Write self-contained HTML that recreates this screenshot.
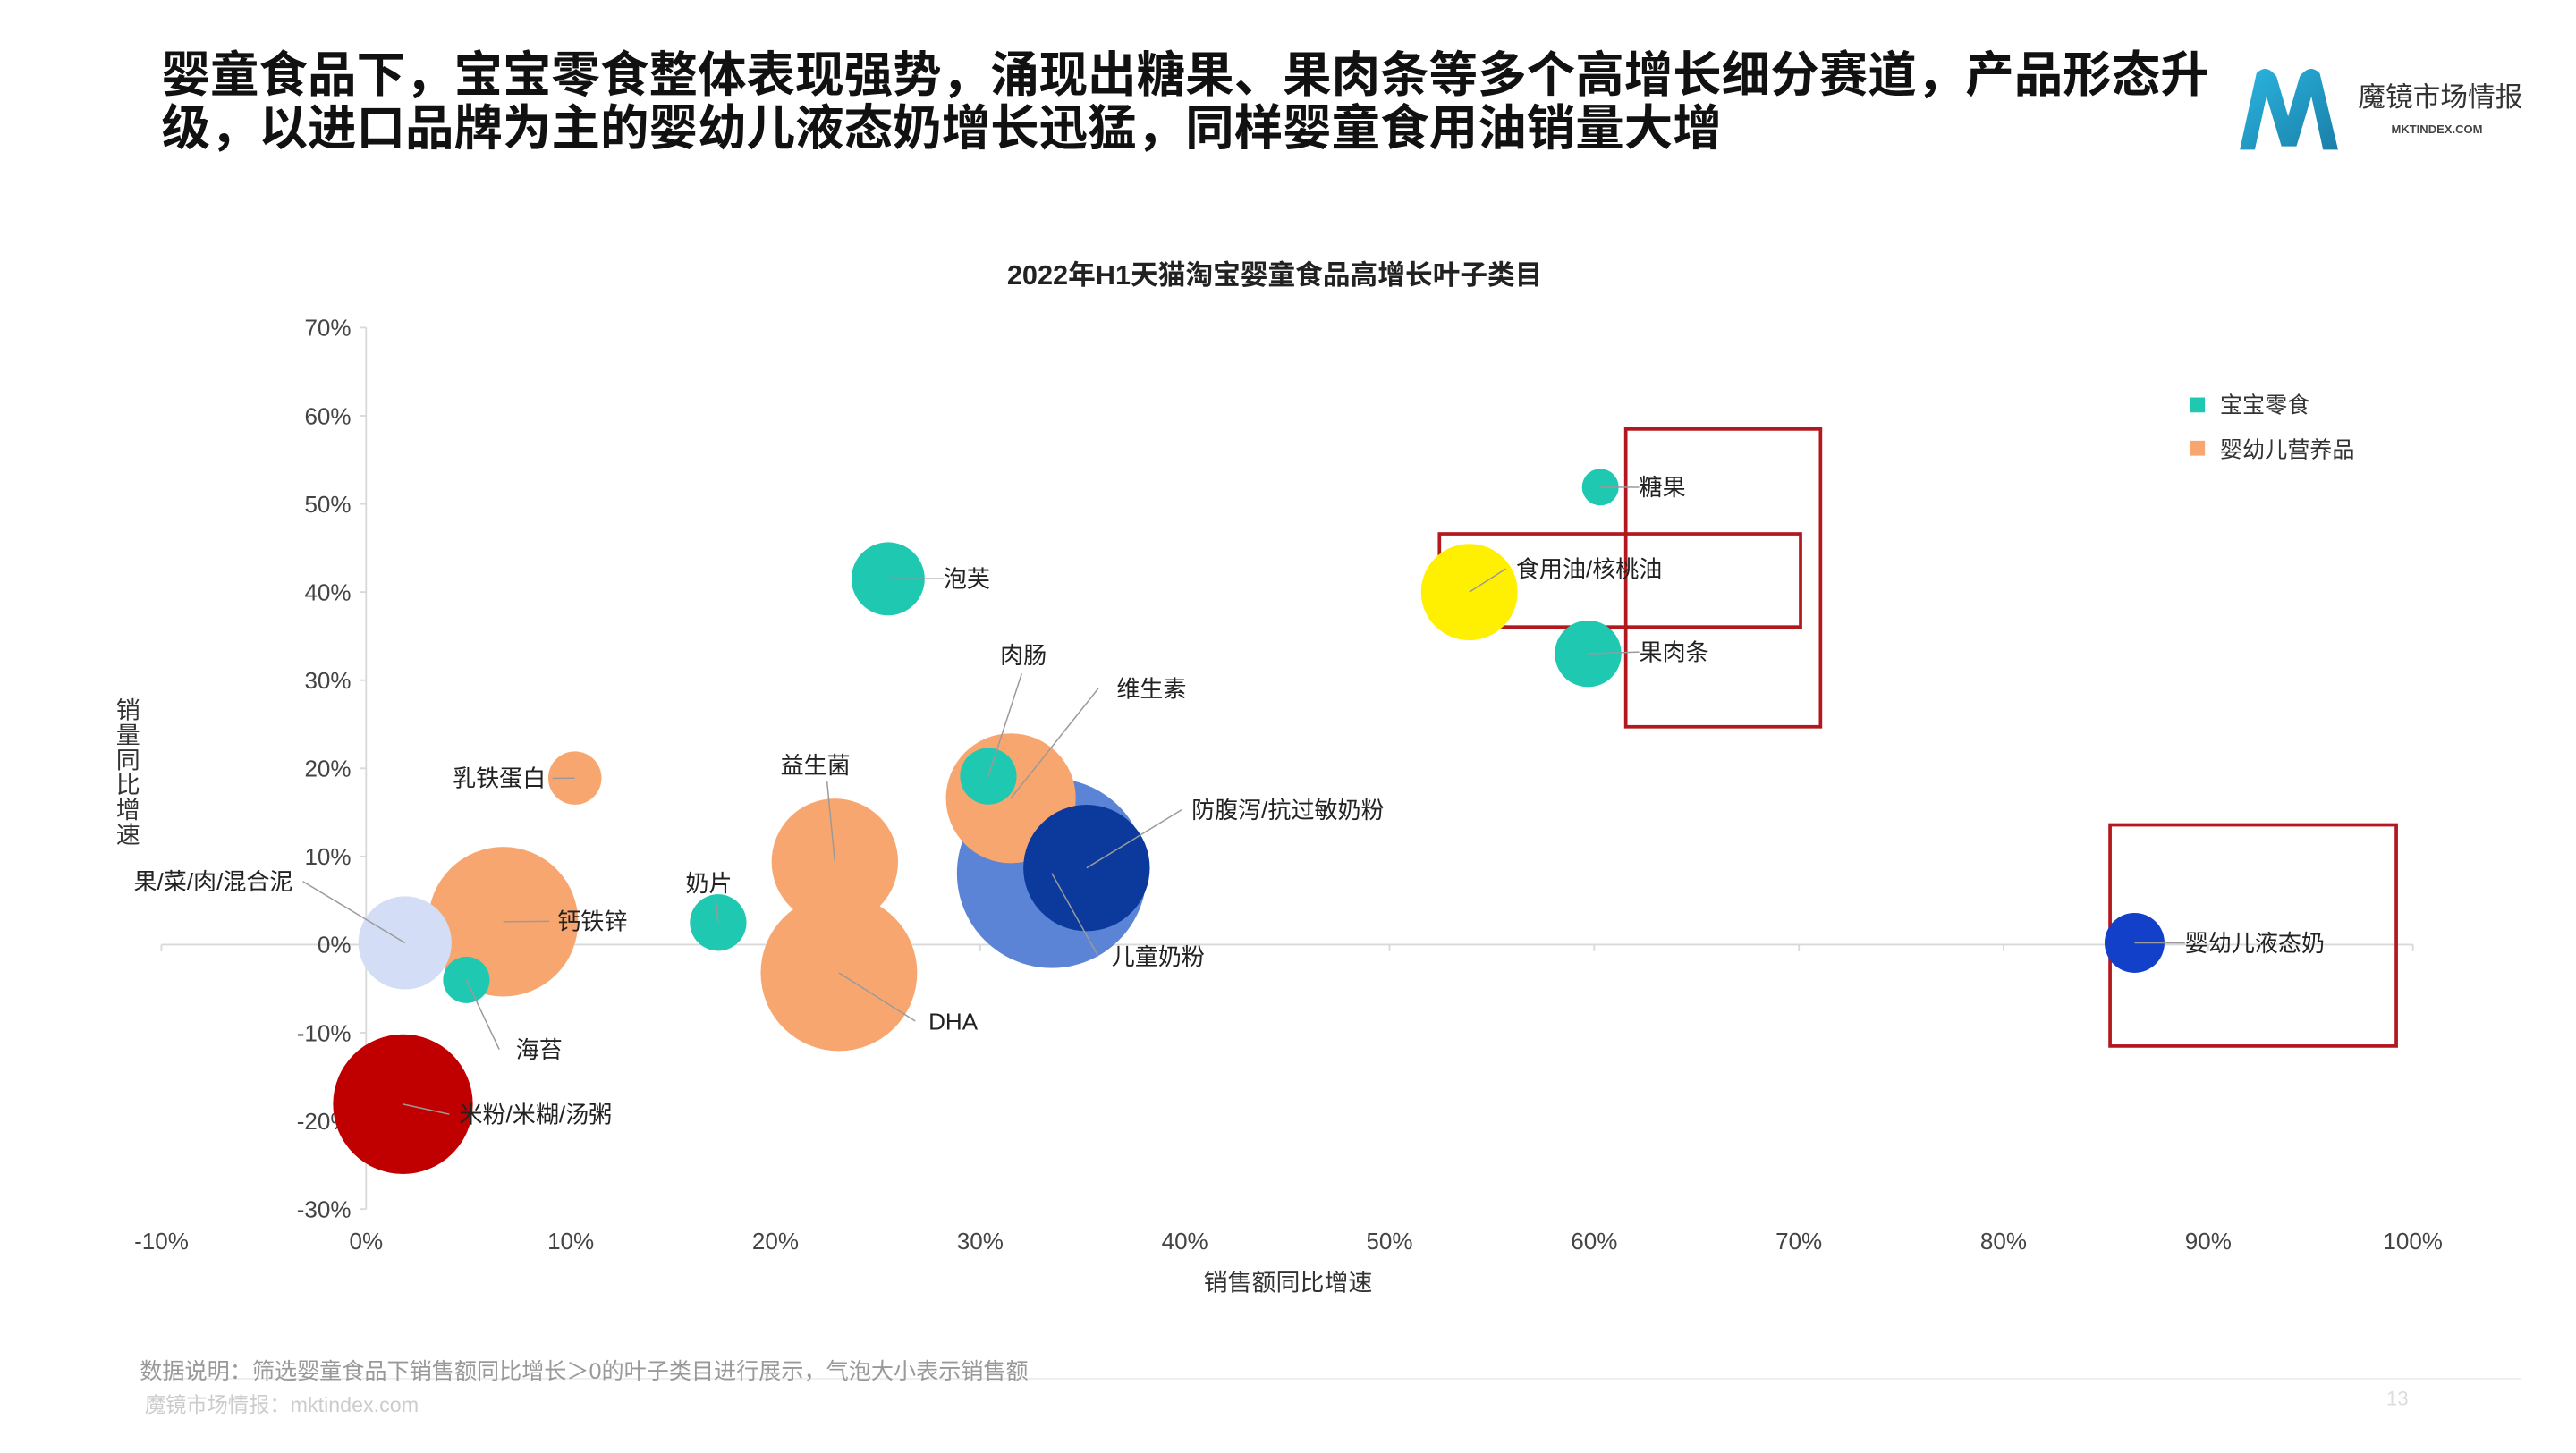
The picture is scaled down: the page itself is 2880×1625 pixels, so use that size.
<!DOCTYPE html>
<html><head><meta charset="utf-8">
<style>
html,body{margin:0;padding:0;background:#fff;}
body{width:2880px;height:1620px;overflow:hidden;}
svg text{font-family:"Liberation Sans","Noto Sans CJK SC",sans-serif;}
</style></head>
<body>
<svg id="chart" width="2880" height="1620" viewBox="0 0 1548 871" preserveAspectRatio="none" xmlns="http://www.w3.org/2000/svg">
  <text x="97" y="55" font-size="29.3" font-weight="bold" fill="#111">婴童食品下，宝宝零食整体表现强势，涌现出糖果、果肉条等多个高增长细分赛道，产品形态升</text>
  <text x="97" y="87" font-size="29.3" font-weight="bold" fill="#111">级，以进口品牌为主的婴幼儿液态奶增长迅猛，同样婴童食用油销量大增</text>
  <g>
    <defs><linearGradient id="lg" x1="0" y1="0" x2="1" y2="1"><stop offset="0" stop-color="#2ab5e0"/><stop offset="1" stop-color="#1a7fa8"/></linearGradient></defs>
    <path d="M1346 90 L1356 44 Q1362 38 1368 46 L1375 70 L1382 46 Q1388 38 1394 44 L1405 90 L1396 90 L1389 58 L1380 88 L1371 88 L1362 58 L1355 90 Z" fill="url(#lg)"/>
    <text x="1417" y="64" font-size="16.5" fill="#333">魔镜市场情报</text>
    <text x="1437" y="80" font-size="7" fill="#444" font-weight="bold">MKTINDEX.COM</text>
  </g>
  <text x="766" y="171" font-size="16.5" font-weight="bold" text-anchor="middle" fill="#222">2022年H1天猫淘宝婴童食品高增长叶子类目</text>
  <g id="axes"></g>
  <g id="boxes"></g>
  <g id="bubbles"></g>
  <g id="labels"></g>
  <g>
    <rect x="1316" y="239" width="9" height="9" fill="#1fc8b0"/>
    <text x="1334" y="248" font-size="13.5" fill="#333">宝宝零食</text>
    <rect x="1316" y="265" width="9" height="9" fill="#f8a66f"/>
    <text x="1334" y="275" font-size="13.5" fill="#333">婴幼儿营养品</text>
  </g>
  <text font-size="14.5" fill="#333" text-anchor="middle">
    <tspan x="77" y="432">销</tspan><tspan x="77" y="447">量</tspan><tspan x="77" y="462">同</tspan><tspan x="77" y="477">比</tspan><tspan x="77" y="492">增</tspan><tspan x="77" y="507">速</tspan>
  </text>
  <text x="774" y="776" font-size="14.5" text-anchor="middle" fill="#333">销售额同比增速</text>
  <line x1="84" y1="829" x2="1515" y2="829" stroke="#eee" stroke-width="1"/>
  <text x="84" y="829" font-size="13.5" fill="#999">数据说明：筛选婴童食品下销售额同比增长＞0的叶子类目进行展示，气泡大小表示销售额</text>
  <text x="87" y="849" font-size="12.5" fill="#ccc">魔镜市场情报：mktindex.com</text>
  <text x="1434" y="845" font-size="12" fill="#ddd">13</text>
</svg>
<script>
const xTicks = [-10,0,10,20,30,40,50,60,70,80,90,100];
const yTicks = [70,60,50,40,30,20,10,0,-10,-20,-30];
const names = ["儿童奶粉","DHA","米粉/米糊/汤粥","钙铁锌","益生菌","维生素","防腹泻/抗过敏奶粉","食用油/核桃油","果/菜/肉/混合泥","泡芙","果肉条","婴幼儿液态奶","肉肠","奶片","乳铁蛋白","海苔","糖果"];
const salesGrowth = [33.5,23.1,1.8,6.7,22.9,31.5,35.2,53.9,1.9,25.5,59.7,86.4,30.4,17.2,10.2,4.9,60.3];
const volumeGrowth = [8.1,-3.2,-18.1,2.6,9.4,16.6,8.7,40.0,0.2,41.5,33.0,0.2,19.1,2.5,18.9,-4.0,51.9];
const sales = [57,47,42,45,38,39,38,29,28,22,20,18,17,17,16,14,11];
const colors = ["#5b84d6","#f8a66f","#c00000","#f8a66f","#f8a66f","#f8a66f","#0b3a9c","#ffef00","#d3def6","#1fc8b0","#1fc8b0","#1240c8","#1fc8b0","#1fc8b0","#f8a66f","#1fc8b0","#1fc8b0"];
// label layout: [textX, textY, anchor, leaderEndX, leaderEndY]
const labelPos = [
 [668,580,"start",660,575],[558,619,"start",550,614],[276,675,"start",270,670],[335,559,"start",330,554],
 [490,465,"middle",497,470],[671,419,"start",660,414],[716,492,"start",710,487],[911,347,"start",905,342],
 [176,535,"end",182,530],[567,353,"start",567,348],[985,397,"start",985,392],[1313,572,"start",1313,567],
 [615,399,"middle",614,405],[426,536,"middle",430,540],[328,473,"end",332,468],[310,636,"start",300,631],[985,298,"start",985,293]
];
const X = v => 220 + v*12.3;
const Y = v => 568 - v*5.3;
const R = s => s;
const NS = "http://www.w3.org/2000/svg";
function mk(tag, attrs, parent){const e=document.createElementNS(NS,tag);for(const k in attrs)e.setAttribute(k,attrs[k]);parent.appendChild(e);return e;}
const axes=document.getElementById('axes');
let yl=mk('line',{x1:X(0),y1:Y(70),x2:X(0),y2:Y(-30),stroke:"#d9d9d9","stroke-width":1},axes);


let xl=mk('line',{x1:X(-10),y1:Y(0),x2:X(100),y2:Y(0),stroke:"#d9d9d9","stroke-width":1},axes);


xTicks.forEach(t=>{
  const tk=mk('line',{x1:X(t),y1:Y(0),x2:X(t),y2:Y(0)+4,stroke:"#d9d9d9"},axes);
  
  
  const e=mk('text',{x:X(t),y:751,"font-size":14,"text-anchor":"middle",fill:"#444"},axes);
  e.textContent=t+"%";
  
  
});
yTicks.forEach(t=>{
  const tk=mk('line',{x1:X(0)-4,y1:Y(t),x2:X(0),y2:Y(t),stroke:"#d9d9d9"},axes);
  
  
  const e=mk('text',{x:211,y:Y(t)+5,"font-size":14,"text-anchor":"end",fill:"#444"},axes);
  e.textContent=t+"%";
  
  
});
const boxes=document.getElementById('boxes');
[[977,258,117,179],[865,321,217,56],[1268,496,172,133]].forEach((b,i)=>{
  const r=mk('rect',{x:b[0],y:b[1],width:b[2],height:b[3],fill:"none",stroke:"#b3181f","stroke-width":2},boxes);
  
  
});
const bg=document.getElementById('bubbles'), lg=document.getElementById('labels');
names.forEach((n,i)=>{
  const cx=X(salesGrowth[i]), cy=Y(volumeGrowth[i]);
  const c=mk('circle',{cx:cx,cy:cy,r:R(sales[i]),fill:colors[i]},bg);
  
  
  const p=labelPos[i];
  const ex=+p[3], ey=+p[4];
  if(Math.hypot(ex-cx,ey-cy)>R(sales[i])*0.3+4){
    const l=mk('line',{x1:cx,y1:cy,x2:ex,y2:ey,stroke:"#9a9a9a","stroke-width":0.8},lg);
    
    
  }
  const t=mk('text',{x:p[0],y:p[1],"font-size":14,"text-anchor":p[2],fill:"#222"},lg);
  t.textContent=n;
  
  
});
</script>
</body></html>
